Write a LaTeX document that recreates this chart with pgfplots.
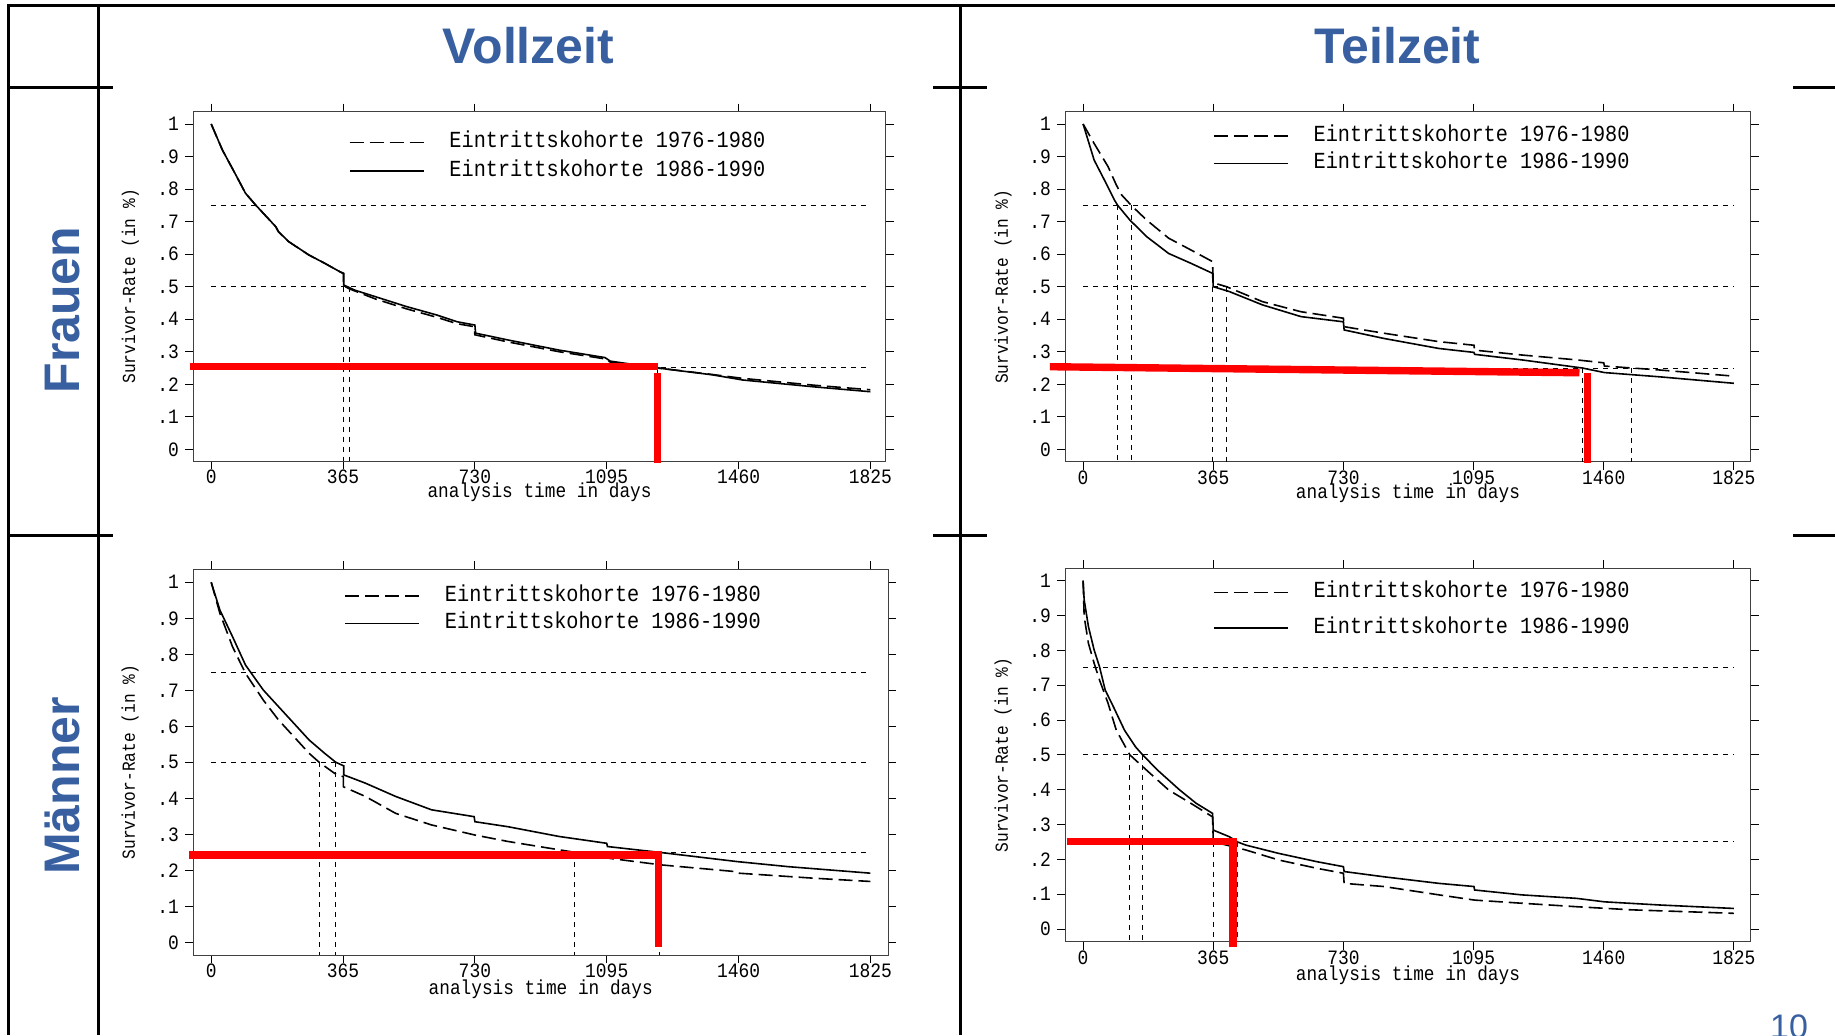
\documentclass[border=0pt]{standalone}
\usepackage{pgfplots}
\pgfplotsset{compat=1.18}
\usepackage{fontspec}
\setmainfont{Liberation Sans}
\newfontfamily\statafont{Liberation Mono}[FakeStretch=0.88]
\definecolor{slideblue}{RGB}{56,95,160}
\definecolor{markred}{RGB}{255,0,0}

% 1 px of the slide = 0.5pt
\pgfplotsset{
  legend image code/.code={\draw[#1] (0pt,0pt) -- (37pt,0pt);},
  survival/.style={
    scale only axis,
    clip=false,
    axis line style={black!75, line width=0.5pt},
    tick align=outside,
    major tick length=4pt,
    every tick/.style={black, line width=0.5pt},
    xtick={0,365,730,1095,1460,1825},
    xticklabels={0,365,730,1095,1460,1825},
    ytick={0,0.1,0.2,0.3,0.4,0.5,0.6,0.7,0.8,0.9,1},
    yticklabels={0,.1,.2,.3,.4,.5,.6,.7,.8,.9,1},
    ticklabel style={font=\statafont\fontsize{10.2}{12}\selectfont, inner sep=0pt},
    xticklabel style={yshift=-0.3pt},
    yticklabel style={xshift=-3pt},
    xlabel={analysis time in days},
    ylabel={Survivor-Rate (in \%)},
    every axis x label/.style={at={(axis description cs:0.5,-0.09)}, anchor=center,
      font=\statafont\fontsize{10.1}{12}\selectfont},
    every axis y label/.style={at={(axis description cs:-0.091,0.5)}, anchor=center, rotate=90,
      font=\statafont\fontsize{9.2}{11}\selectfont},
    legend style={draw=none, fill=none, anchor=west, inner sep=0pt,
      font=\statafont\fontsize{11.5}{13}\selectfont,
      nodes={text height=8pt, text depth=2.5pt, inner sep=0pt},
      cells={anchor=west},
      /tikz/every odd column/.append style={column sep=12.5pt}},
  },
  cohortA/.style={black, line width=0.8pt, dash pattern=on 7pt off 3pt},
  cohortB/.style={black, line width=0.8pt},
  refline/.style={black, line width=0.5pt, dash pattern=on 2.5pt off 2.5pt, forget plot},
  marker/.style={markred, line width=3.7pt, forget plot},
}

\begin{document}
\begin{tikzpicture}
\path[use as bounding box, fill=white] (0pt,0pt) rectangle (917.5pt,-517.5pt);

% slide table
\draw[line width=1.5pt] (4pt,-2.75pt) -- (917.5pt,-2.75pt);
\draw[line width=1.1pt] (4.25pt,-2pt) -- (4.25pt,-517.5pt);
\draw[line width=1.1pt] (49.25pt,-2pt) -- (49.25pt,-517.5pt);
\draw[line width=1.1pt] (480.25pt,-2pt) -- (480.25pt,-517.5pt);
\foreach \yy in {43.5,267.5}{
  \draw[line width=1.5pt] (4pt,-\yy pt) -- (56.5pt,-\yy pt);
  \draw[line width=1.5pt] (466.5pt,-\yy pt) -- (493.5pt,-\yy pt);
  \draw[line width=1.5pt] (896.5pt,-\yy pt) -- (917.5pt,-\yy pt);
}
\node[anchor=base, font=\bfseries\fontsize{25}{30}\selectfont, text=slideblue] at (264.25pt,-31.6pt) {Vollzeit};
\node[anchor=base, font=\bfseries\fontsize{25}{30}\selectfont, text=slideblue] at (698.75pt,-31.6pt) {Teilzeit};
\node[anchor=base, rotate=90, font=\bfseries\fontsize{25}{30}\selectfont, text=slideblue] at (39.8pt,-155pt) {Frauen};
\node[anchor=base, rotate=90, font=\bfseries\fontsize{25}{30}\selectfont, text=slideblue] at (39.8pt,-393pt) {Männer};
\node[anchor=base, font=\fontsize{17}{20}\selectfont, text=slideblue] at (894.5pt,-519pt) {10};

% Frauen, Vollzeit
\begin{axis}[survival, at={(96.7pt,-230.5pt)}, anchor=south west,
  width=346.15pt, height=174.65pt,
  xmin=-49.3, xmax=1867.4, ymin=-0.036, ymax=1.0378,
  legend style={at={(axis description cs:0.224,0.8717)}, row sep=3.7pt}]
\addplot[refline] coordinates {(0,0.75)(1825,0.75)};
\addplot[refline] coordinates {(0,0.5)(1825,0.5)};
\addplot[refline] coordinates {(0,0.25)(1825,0.25)};
\addplot[refline] coordinates {(366,0.5)(366,-0.036)};
\addplot[refline] coordinates {(383,0.5)(383,-0.036)};
\addplot[refline] coordinates {(1236,0.25)(1236,-0.036)};
\addplot[cohortA] coordinates {
 (0,1.0)(31,0.92)(66,0.848)(95,0.787)(123,0.751)(179,0.684)(186,0.669)(215,0.638)
 (271,0.597)(314,0.572)(356,0.546)(366,0.540)(366,0.503)(383,0.493)(455,0.462)
 (540,0.432)(624,0.406)(681,0.386)(728,0.377)(730,0.352)(822,0.330)(963,0.300)
 (1090,0.278)(1105,0.268)(1236,0.250)(1387,0.230)(1472,0.218)(1669,0.197)(1825,0.183)};
\addlegendentry{Eintrittskohorte 1976-1980}
\addplot[cohortB] coordinates {
 (0,1.0)(31,0.92)(66,0.848)(95,0.787)(123,0.751)(179,0.684)(186,0.669)(215,0.638)
 (271,0.597)(314,0.572)(356,0.546)(367,0.541)(367,0.505)(398,0.489)(455,0.469)
 (540,0.439)(624,0.413)(681,0.392)(730,0.382)(732,0.357)(822,0.336)(963,0.305)
 (1090,0.282)(1105,0.271)(1236,0.250)(1387,0.229)(1472,0.213)(1669,0.192)(1825,0.177)};
\addlegendentry{Eintrittskohorte 1986-1990}
\addplot[marker] coordinates {(-60,0.254)(1236,0.254)};
\addplot[marker] coordinates {(1236,0.2345)(1236,-0.042)};
\end{axis}

% Frauen, Teilzeit
\begin{axis}[survival, at={(532.7pt,-230.85pt)}, anchor=south west,
  width=342.55pt, height=175pt,
  xmin=-49.6, xmax=1871.6, ymin=-0.038, ymax=1.0378,
  legend style={at={(axis description cs:0.215,0.892)}, row sep=3.3pt}]
\addplot[refline] coordinates {(0,0.75)(1825,0.75)};
\addplot[refline] coordinates {(0,0.5)(1825,0.5)};
\addplot[refline] coordinates {(0,0.25)(1825,0.25)};
\addplot[refline] coordinates {(97,0.75)(97,-0.038)};
\addplot[refline] coordinates {(135,0.75)(135,-0.038)};
\addplot[refline] coordinates {(363,0.5)(363,-0.038)};
\addplot[refline] coordinates {(402,0.5)(402,-0.038)};
\addplot[refline] coordinates {(1400,0.25)(1400,-0.038)};
\addplot[refline] coordinates {(1539,0.25)(1539,-0.038)};
\addplot[cohortA] coordinates {
 (0,1.0)(31,0.94)(70,0.869)(93,0.813)(108,0.782)(135,0.75)(178,0.705)(240,0.649)
 (302,0.613)(363,0.577)(365,0.512)(402,0.500)(503,0.454)(611,0.423)(730,0.403)
 (732,0.377)(843,0.357)(998,0.331)(1096,0.320)(1098,0.305)(1230,0.290)(1384,0.275)
 (1460,0.266)(1462,0.256)(1539,0.250)(1616,0.244)(1825,0.225)};
\addlegendentry{Eintrittskohorte 1976-1980}
\addplot[cohortB] coordinates {
 (0,1.0)(31,0.889)(62,0.823)(88,0.766)(97,0.75)(131,0.705)(178,0.654)(240,0.602)
 (302,0.572)(363,0.541)(365,0.500)(410,0.485)(503,0.444)(611,0.408)(730,0.392)
 (732,0.367)(843,0.341)(998,0.310)(1096,0.298)(1098,0.292)(1230,0.275)(1400,0.250)
 (1462,0.236)(1616,0.223)(1825,0.203)};
\addlegendentry{Eintrittskohorte 1986-1990}
\addplot[marker] coordinates {(-93,0.254)(1392,0.2355)};
\addplot[marker] coordinates {(1415,0.2345)(1415,-0.042)};
\end{axis}

% Maenner, Vollzeit
\begin{axis}[survival, at={(96.7pt,-477.5pt)}, anchor=south west,
  width=347.3pt, height=192.85pt,
  xmin=-49.3, xmax=1873.7, ymin=-0.0353, ymax=1.036,
  legend style={at={(axis description cs:0.2168,0.8958)}, row sep=3.3pt}]
\addplot[refline] coordinates {(0,0.75)(1825,0.75)};
\addplot[refline] coordinates {(0,0.5)(1825,0.5)};
\addplot[refline] coordinates {(0,0.25)(1825,0.25)};
\addplot[refline] coordinates {(299,0.5)(299,-0.0353)};
\addplot[refline] coordinates {(345,0.5)(345,-0.0353)};
\addplot[refline] coordinates {(1006,0.25)(1006,-0.0353)};
\addplot[refline] coordinates {(1240,0.25)(1240,-0.0353)};
\addplot[cohortA] coordinates {
 (0,1.0)(24,0.914)(59,0.821)(95,0.747)(144,0.673)(186,0.618)(229,0.571)(271,0.525)
 (299,0.500)(342,0.469)(366,0.460)(366,0.432)(427,0.405)(511,0.358)(610,0.326)
 (730,0.298)(822,0.280)(1006,0.250)(1105,0.233)(1246,0.215)(1456,0.196)(1460,0.192)
 (1669,0.178)(1825,0.169)};
\addlegendentry{Eintrittskohorte 1976-1980}
\addplot[cohortB] coordinates {
 (0,1.0)(24,0.923)(59,0.849)(95,0.770)(144,0.701)(186,0.655)(229,0.608)(271,0.562)
 (314,0.525)(345,0.500)(367,0.490)(367,0.465)(427,0.442)(511,0.405)(610,0.368)
 (728,0.349)(730,0.335)(822,0.321)(963,0.294)(1095,0.275)(1097,0.266)(1240,0.250)
 (1458,0.224)(1599,0.210)(1825,0.192)};
\addlegendentry{Eintrittskohorte 1986-1990}
\addplot[marker] coordinates {(-61,0.2425)(1239,0.2425)(1239,-0.012)};
\end{axis}

% Maenner, Teilzeit
\begin{axis}[survival, at={(532.7pt,-470.85pt)}, anchor=south west,
  width=342.55pt, height=186.7pt,
  xmin=-49.6, xmax=1871.6, ymin=-0.0365, ymax=1.0356,
  legend style={at={(axis description cs:0.215,0.8883)}, row sep=7.2pt}]
\addplot[refline] coordinates {(0,0.75)(1825,0.75)};
\addplot[refline] coordinates {(0,0.5)(1825,0.5)};
\addplot[refline] coordinates {(0,0.25)(1825,0.25)};
\addplot[refline] coordinates {(131,0.5)(131,-0.0365)};
\addplot[refline] coordinates {(167,0.5)(167,-0.0365)};
\addplot[refline] coordinates {(365,0.25)(365,-0.0365)};
\addplot[refline] coordinates {(433,0.25)(433,-0.0365)};
\addplot[cohortA] coordinates {
 (0,1.0)(3,0.897)(15,0.82)(31,0.763)(46,0.715)(70,0.648)(93,0.571)(131,0.500)
 (178,0.456)(240,0.399)(302,0.361)(363,0.322)(365,0.255)(394,0.243)(456,0.227)
 (549,0.198)(657,0.174)(730,0.160)(732,0.131)(843,0.122)(998,0.098)(1098,0.083)
 (1230,0.074)(1384,0.064)(1539,0.055)(1825,0.045)};
\addlegendentry{Eintrittskohorte 1976-1980}
\addplot[cohortB] coordinates {
 (0,1.0)(3,0.945)(15,0.868)(31,0.801)(46,0.753)(62,0.686)(85,0.638)(116,0.571)
 (147,0.523)(167,0.500)(209,0.456)(271,0.399)(317,0.361)(363,0.332)(365,0.284)
 (410,0.265)(433,0.250)(456,0.241)(549,0.217)(657,0.193)(730,0.179)(732,0.165)
 (843,0.150)(998,0.131)(1096,0.122)(1098,0.112)(1230,0.098)(1384,0.088)(1462,0.078)
 (1616,0.069)(1825,0.059)};
\addlegendentry{Eintrittskohorte 1986-1990}
\addplot[marker] coordinates {(-46.5,0.2506)(420,0.2506)(420,-0.051)};
\end{axis}
\end{tikzpicture}
\end{document}
